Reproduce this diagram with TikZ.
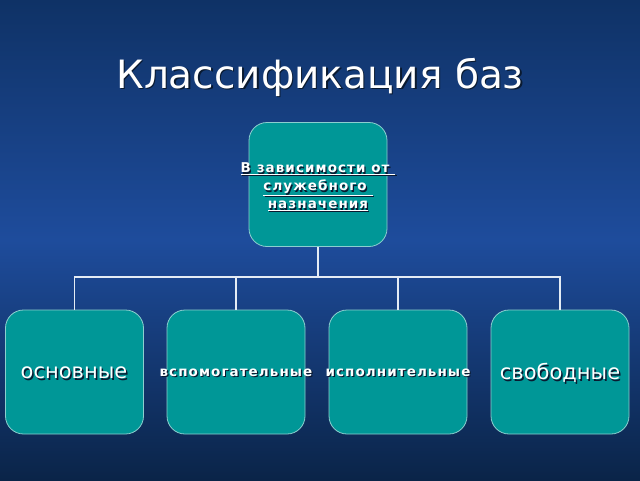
\documentclass[tikz,border=0pt]{standalone}
\usepackage{fontspec}
\setmainfont{DejaVu Sans}
\newfontfamily\djreg{DejaVu Sans}
\newfontfamily\djbold[LetterSpace=8]{DejaVu Sans Bold}
\definecolor{bgtop}{HTML}{0F3266}
\definecolor{bgmid}{HTML}{1E4C9C}
\definecolor{bgbot}{HTML}{0A2448}
\definecolor{teal}{HTML}{009797}
\definecolor{tealedge}{HTML}{8CCFCF}
\definecolor{linecol}{HTML}{E4ECF4}
\definecolor{shadowcol}{HTML}{0A1A30}
\begin{document}
\begin{tikzpicture}[x=1pt,y=-1pt,
  boxstyle/.style={draw=tealedge, line width=0.8pt, fill=teal, rounded corners=18pt,
    minimum width=138pt, minimum height=124pt, inner sep=0pt},
  conn/.style={draw=linecol, line width=1.8pt},
  txt/.style={text=white, inner sep=0pt, align=center},
  shd/.style={text=shadowcol, inner sep=0pt, align=center}]
\useasboundingbox (0,0) rectangle (640,480);
\shade[top color=bgtop, bottom color=bgbot, middle color=bgmid] (0,0) rectangle (640,480);

% title
\node[shd, font=\djreg\fontsize{39}{42}\selectfont] (titles) at (321.5,78.5) {Классификация баз};
\node[txt, font=\djreg\fontsize{39}{42}\selectfont] (title) at (320,77) {Классификация баз};

% boxes
\node[boxstyle] (top) at (318,184.5) {};
\node[boxstyle] (b1) at (74.5,372) {};
\node[boxstyle] (b2) at (236,372) {};
\node[boxstyle] (b3) at (398,372) {};
\node[boxstyle] (b4) at (560,372) {};

% connectors
\coordinate (j) at (318,277);
\draw[conn] (top.south) -- (j);
\draw[conn] (j) -| (b1.north);
\draw[conn] (j) -| (b2.north);
\draw[conn] (j) -| (b3.north);
\draw[conn] (j) -| (b4.north);

% top box text
\node[shd, font=\djbold\fontsize{13.5}{18}\selectfont] (topts) at (319.2,188.2)
  {\underline{В зависимости от\ }\\\underline{служебного\ }\\\underline{назначения}};
\node[txt, font=\djbold\fontsize{13.5}{18}\selectfont] (topt) at (318,187)
  {\underline{В зависимости от\ }\\\underline{служебного\ }\\\underline{назначения}};

% bottom texts
\node[shd, font=\djreg\fontsize{21}{24}\selectfont] (t1s) at (75.5,374.5) {основные};
\node[txt, font=\djreg\fontsize{21}{24}\selectfont] (t1) at (74,373) {основные};
\node[shd, font=\djbold\fontsize{13.5}{15}\selectfont] (t2s) at (237.2,374.2) {вспомогательные};
\node[txt, font=\djbold\fontsize{13.5}{15}\selectfont] (t2) at (236,373) {вспомогательные};
\node[shd, font=\djbold\fontsize{13.5}{15}\selectfont] (t3s) at (399.2,374.2) {исполнительные};
\node[txt, font=\djbold\fontsize{13.5}{15}\selectfont] (t3) at (398,373) {исполнительные};
\node[shd, font=\djreg\fontsize{21}{24}\selectfont] (t4s) at (561.5,374.5) {свободные};
\node[txt, font=\djreg\fontsize{21}{24}\selectfont] (t4) at (560,373) {свободные};
\end{tikzpicture}
\end{document}
